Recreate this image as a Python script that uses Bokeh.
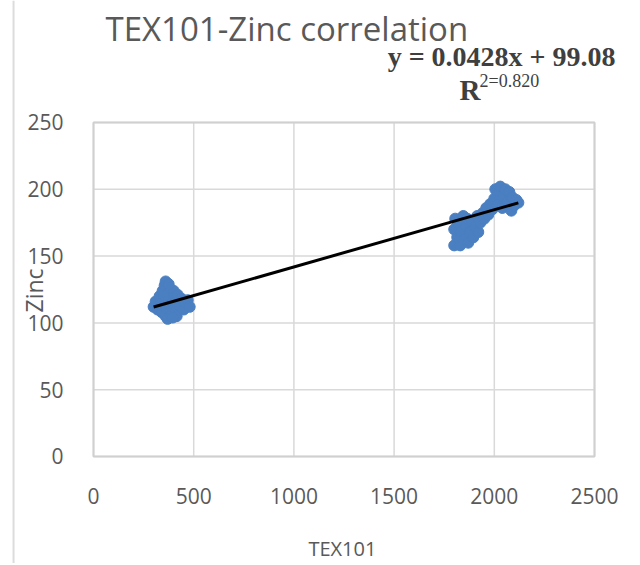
import math
from bokeh.plotting import figure
from bokeh.models import Range1d, FixedTicker, Label, ColumnDataSource, Span
from bokeh.embed import file_html
from bokeh.resources import INLINE

# ---- data ----
tex101_low = [300, 310, 320, 330, 340, 345, 350, 355, 360, 365, 370, 375, 380, 385, 390,
              395, 400, 405, 410, 415, 420, 430, 440, 450, 460, 470, 480, 350, 330, 360,
              360, 375, 370, 395]
zinc_low = [112, 116, 110, 120, 108, 124, 115, 128, 105, 118, 122, 110, 126, 113, 107,
            119, 124, 111, 116, 105, 121, 113, 118, 110, 115, 117, 112, 120, 114, 112,
            131, 129, 103, 104]

tex101_high = [1800, 1800, 1805, 1815, 1820, 1830, 1835, 1845, 1850, 1860, 1865, 1870,
               1880, 1890, 1895, 1905, 1915, 1920,
               1930, 1940, 1950, 1960, 1970, 1980, 1990,
               2000, 2005, 2015, 2020, 2030, 2040, 2045, 2055, 2065, 2075, 2085, 2090,
               2100, 2110, 2120]
zinc_high = [158, 170, 178, 164, 175, 158, 168, 180, 162, 172, 178, 160,
             168, 176, 164, 172, 180, 168,
             175, 182, 178, 186, 181, 189, 185,
             193, 200, 188, 196, 202, 186, 194, 200, 190, 198, 184, 194,
             188, 192, 190]

slope = 0.0428
intercept = 99.08
r_squared = 0.820

x_ticks = [0, 500, 1000, 1500, 2000, 2500]
y_ticks = [0, 50, 100, 150, 200, 250]

title_text = "TEX101-Zinc correlation"
x_label = "TEX101"
y_label = "Zinc"

# ---- figure: the frame fills the canvas, axes sit at fixed data locations ----
p = figure(width=632, height=563, output_backend="svg", toolbar_location=None,
           x_range=Range1d(-464.1, 2689.6), y_range=Range1d(-80.1, 341.3),
           min_border=0, min_border_left=0, min_border_right=0,
           min_border_top=0, min_border_bottom=0)
p.background_fill_color = "white"
p.border_fill_color = "white"
p.outline_line_color = None
p.grid.visible = False

text_color = "#595959"
grid_color = "#d9d9d9"
font = "Open Sans"

xmin, xmax = x_ticks[0], x_ticks[-1]
ymin, ymax = y_ticks[0], y_ticks[-1]

for ax in (p.xaxis, p.yaxis):
    ax.axis_line_color = None
    ax.major_tick_line_color = None
    ax.minor_tick_line_color = None
    ax.major_label_text_color = text_color
    ax.major_label_text_font = font
    ax.major_label_text_font_size = "21px"
p.xaxis.ticker = FixedTicker(ticks=x_ticks)
p.yaxis.ticker = FixedTicker(ticks=y_ticks)
p.xaxis.fixed_location = ymin
p.yaxis.fixed_location = xmin
p.xaxis.bounds = (xmin, xmax)
p.yaxis.bounds = (ymin, ymax)
p.xaxis.major_label_standoff = 26
p.yaxis.major_label_standoff = 24

# grid lines and plot-area border, from the tick arrays
p.segment(x0=x_ticks, y0=[ymin] * len(x_ticks), x1=x_ticks, y1=[ymax] * len(x_ticks),
          line_color=grid_color, line_width=1.5)
p.segment(x0=[xmin] * len(y_ticks), y0=y_ticks, x1=[xmax] * len(y_ticks), y1=y_ticks,
          line_color=grid_color, line_width=1.5)
p.quad(left=[xmin], right=[xmax], bottom=[ymin], top=[ymax], fill_color=None,
       line_color="#d0d0d0", line_width=2)

# chart-area edge
p.add_layout(Span(location=-399, dimension="height", line_color="#dcdcdc", line_width=2))

xs = tex101_low + tex101_high
ys = zinc_low + zinc_high
src = ColumnDataSource(dict(x=xs, y=ys))
p.scatter("x", "y", source=src, size=11, fill_color="#4a7fc1", line_color="#4a7fc1")

x_line = [min(xs), max(xs)]
y_line = [slope * v + intercept for v in x_line]
p.line(x_line, y_line, line_color="black", line_width=3)

# ---- texts ----
p.add_layout(Label(x=60, y=320.5, text=title_text, text_font=font, text_font_size="33px",
                   text_color=text_color, text_baseline="alphabetic", text_align="left"))
p.add_layout(Label(x=2605, y=299.5, text=f"y = {slope}x + {intercept}", text_font="Liberation Serif",
                   text_font_style="bold", text_font_size="28px", text_color="#3f3f3f",
                   text_baseline="alphabetic", text_align="right"))
p.add_layout(Label(x=1826, y=274, text="R", text_font="Liberation Serif",
                   text_font_style="bold", text_font_size="29px", text_color="#3f3f3f",
                   text_baseline="alphabetic", text_align="left"))
p.add_layout(Label(x=1926, y=281, text=f"2={r_squared:.3f}", text_font="Liberation Serif",
                   text_font_size="18px", text_color="#3f3f3f",
                   text_baseline="alphabetic", text_align="left"))
p.add_layout(Label(x=1242, y=-69, text=x_label, text_font=font, text_font_size="20px",
                   text_color=text_color, text_baseline="middle", text_align="center"))
p.add_layout(Label(x=-299, y=124.3, text=y_label, text_font=font, text_font_size="23px",
                   text_color=text_color, text_baseline="middle", text_align="center",
                   angle=math.pi / 2))

open("out.html", "w").write(file_html(p, INLINE))
